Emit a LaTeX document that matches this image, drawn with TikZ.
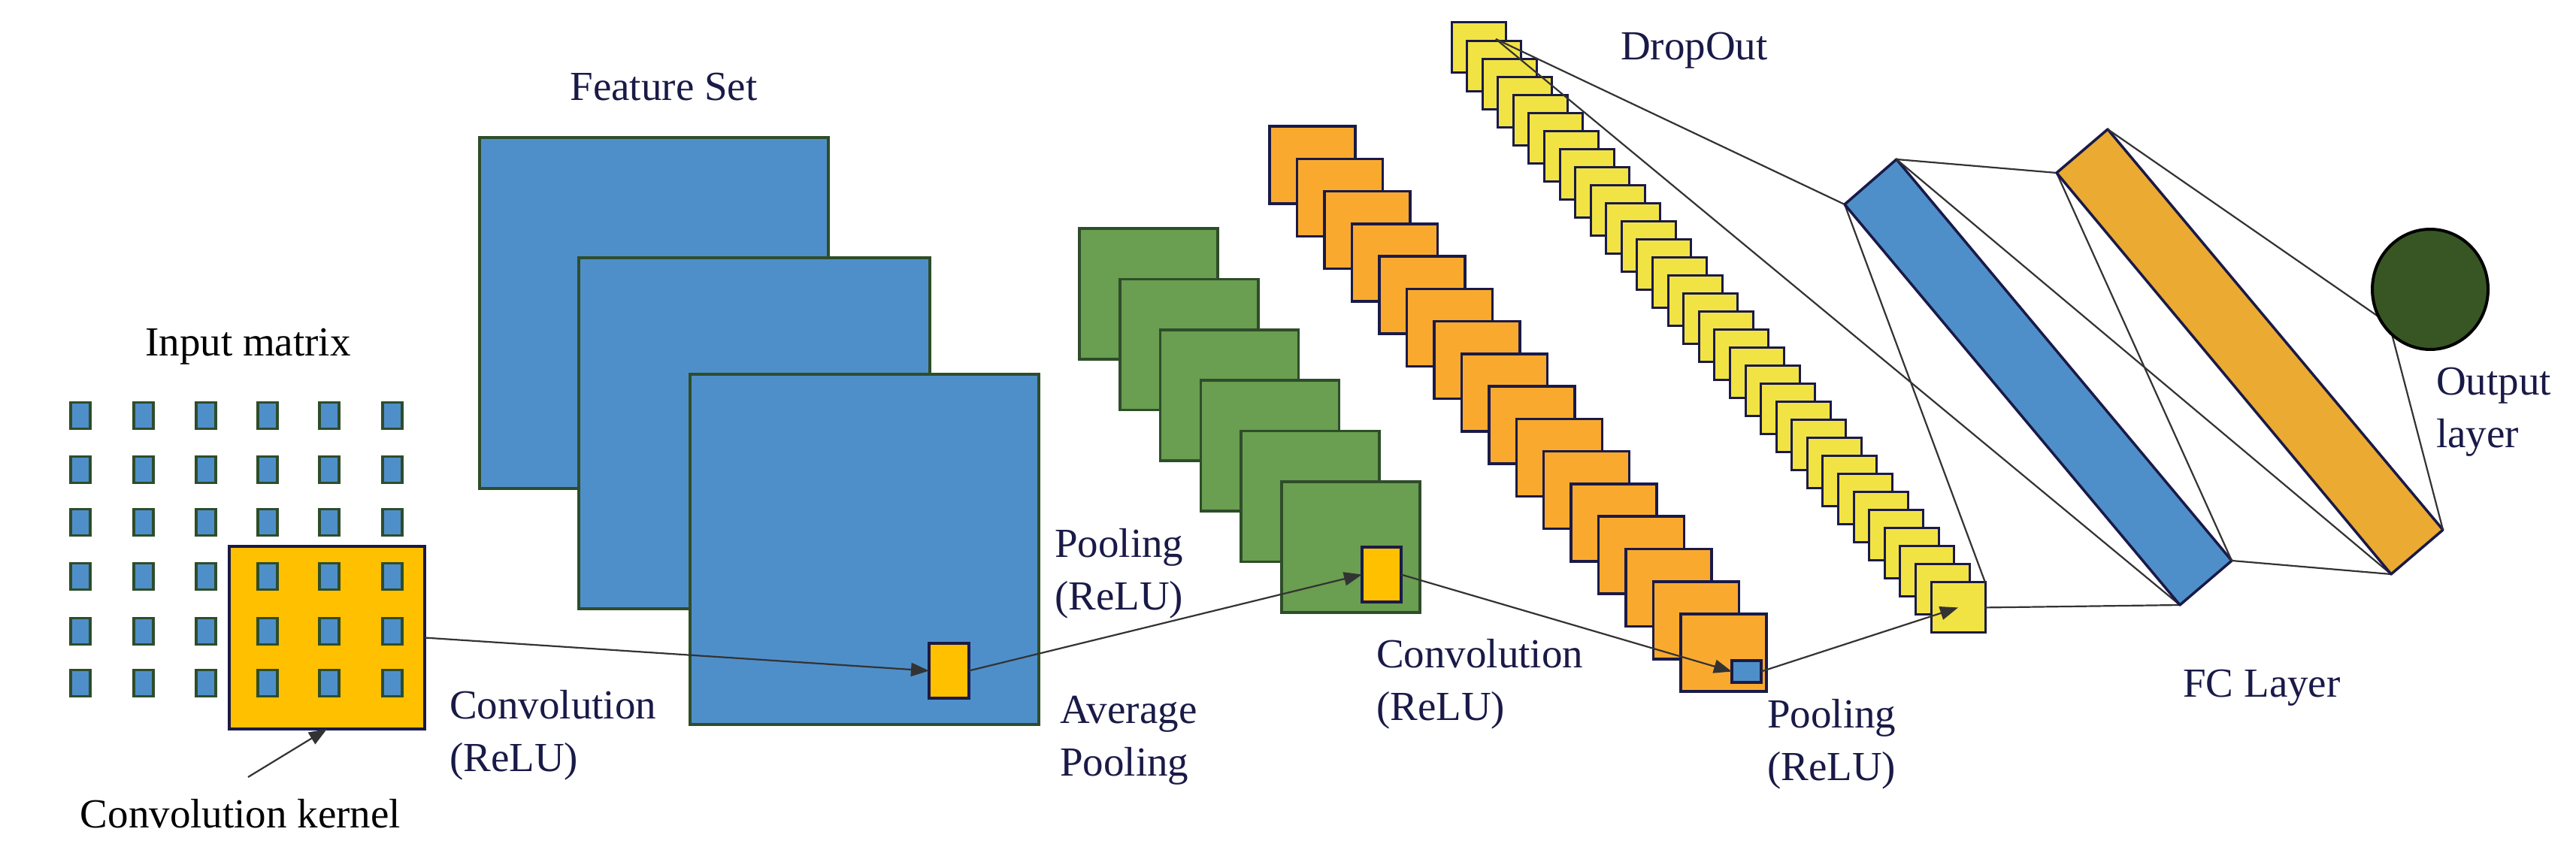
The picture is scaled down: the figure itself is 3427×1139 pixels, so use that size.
\documentclass[tikz,border=0pt]{standalone}
\usepackage{fontspec}
\setmainfont{Liberation Serif}
\usetikzlibrary{arrows.meta,shapes.geometric}
\definecolor{fblue}{HTML}{4F8FC9}
\definecolor{fgreen}{HTML}{6A9E50}
\definecolor{forange}{HTML}{F9AA2E}
\definecolor{fyellow}{HTML}{F2E344}
\definecolor{kern}{HTML}{FFC000}
\definecolor{barorange}{HTML}{EBAA32}
\definecolor{outgreen}{HTML}{375623}
\definecolor{navy}{HTML}{1A1A48}
\definecolor{edgegreen}{HTML}{2E4D2A}
\begin{document}
\begin{tikzpicture}[x=1pt,y=-1pt,
  lbl/.style={font=\fontsize{55}{70}\selectfont,text=navy,inner sep=0pt,align=left},
  box/.style={draw=navy,line width=3.5pt,inner sep=0pt,outer sep=0pt},
  conn/.style={draw=black!80,line width=2.2pt},
  arr/.style={conn,-{Triangle[length=24pt,width=18pt]}}]
\useasboundingbox (0,0) rectangle (3427,1139);
\fill[white] (0,0) rectangle (3427,1139);
% kernel and input matrix
\node[box,fill=kern,minimum width=260pt,minimum height=243pt] (kernel) at (435,848.5) {};
\foreach \c [count=\i] in {107,191,274,356,438,522}{
  \foreach \r [count=\j] in {553,625,695,767,840,909}{
    \node[box,draw=edgegreen,fill=fblue,minimum width=26pt,minimum height=35pt] (d\i\j) at (\c,\r) {};
  }}
\node[lbl,text=black] (tin) at (330,461) {Input matrix};
\node[lbl,text=black] (tker) at (320,1083) {Convolution kernel};
\coordinate (kerstart) at (330,1034);
\draw[arr] (kerstart) -- (kernel.south);
% feature set
\node[box,draw=edgegreen,fill=fblue,minimum width=464pt,minimum height=467pt] (f1) at (870,416.5) {};
\node[box,draw=edgegreen,fill=fblue,minimum width=467pt,minimum height=467pt] (f2) at (1003.5,576.5) {};
\node[box,draw=edgegreen,fill=fblue,minimum width=464pt,minimum height=466pt] (f3) at (1150,731) {};
\node[box,fill=kern,minimum width=53pt,minimum height=73pt] (sy) at (1262.5,892.5) {};
\node[lbl] (tfs) at (883,116) {Feature Set};
\node[lbl,anchor=west] (tconv1) at (598,978) {Convolution\\(ReLU)};
\node[lbl,anchor=west] (tpool1) at (1403,763) {Pooling\\(ReLU)};
\node[lbl,anchor=west] (tavg) at (1410,985) {Average\\Pooling};
% green stack
\foreach \i in {0,...,5}{
  \pgfmathsetmacro\gx{1436+53.8*\i+92}
  \pgfmathsetmacro\gy{304+67.4*\i+87}
  \node[box,draw=edgegreen,fill=fgreen,minimum width=184pt,minimum height=174pt] (g\i) at (\gx,\gy) {};
}
\node[box,fill=kern,minimum width=52pt,minimum height=73pt] (gy) at (1838,764.5) {};
% orange stack
\foreach \i in {0,...,15}{
  \pgfmathsetmacro\ox{1689+36.47*\i+57}
  \pgfmathsetmacro\oy{168+43.27*\i+51.5}
  \node[box,fill=forange,minimum width=114pt,minimum height=103pt] (o\i) at (\ox,\oy) {};
}
\node[box,fill=fblue,minimum width=39pt,minimum height=29pt] (bs) at (2323.5,893.5) {};
\node[lbl,anchor=west] (tconv2) at (1831,910) {Convolution\\(ReLU)};
% yellow stack
\foreach \i in {0,...,31}{
  \pgfmathsetmacro\yx{1931+20.58*\i+36}
  \pgfmathsetmacro\yy{30+24.03*\i+33.5}
  \node[box,line width=3pt,fill=fyellow,minimum width=72pt,minimum height=67pt] (y\i) at (\yx,\yy) {};
}
\node[lbl] (tdrop) at (2254,67) {DropOut};
\node[lbl,anchor=west] (tpool2) at (2351,990) {Pooling\\(ReLU)};
% arrows along the path
\draw[arr] (kernel.east) -- (sy.west);
\draw[arr] (sy.east) -- (gy.west);
\draw[arr] (gy.east) -- (bs.west);
\draw[arr] (bs.east) -- (y31.center);
% FC bars
\coordinate (bTL) at (2454,272);
\coordinate (bT) at (2523,212);
\coordinate (bR) at (2969,746);
\coordinate (bB) at (2900,805);
\coordinate (oTL) at (2736,230);
\coordinate (oT) at (2804,172);
\coordinate (oR) at (3250,705);
\coordinate (oB) at (3181,764);
\coordinate (y0c) at (1990,52);
\coordinate (e1) at (3171,426);
\coordinate (e2) at (3180,437);
\draw[conn] (y0c) -- (bTL);
\draw[conn] (y0c) -- (bB);
\draw[conn] (bTL) -- (y31.north east);
\draw[conn] (y31.east) -- (bB);
\filldraw[fill=fblue,draw=navy,line width=3.5pt,line join=round] (bTL) -- (bT) -- (bR) -- (bB) -- cycle;
\draw[conn] (bT) -- (oTL);
\draw[conn] (bT) -- (oB);
\draw[conn] (bR) -- (oB);
\draw[conn] (oTL) -- (bR);
\filldraw[fill=barorange,draw=navy,line width=3.5pt,line join=round] (oTL) -- (oT) -- (oR) -- (oB) -- cycle;
\draw[conn] (oT) -- (e1);
\draw[conn] (oR) -- (e2);
\node[draw=black,line width=4pt,fill=outgreen,ellipse,minimum width=154pt,minimum height=160pt,inner sep=0pt] (out) at (3233,385) {};
\node[lbl] (tfc) at (3009,915) {FC Layer};
\node[lbl,anchor=west] (tout) at (3241,548) {Output\\layer};
\end{tikzpicture}
\end{document}
